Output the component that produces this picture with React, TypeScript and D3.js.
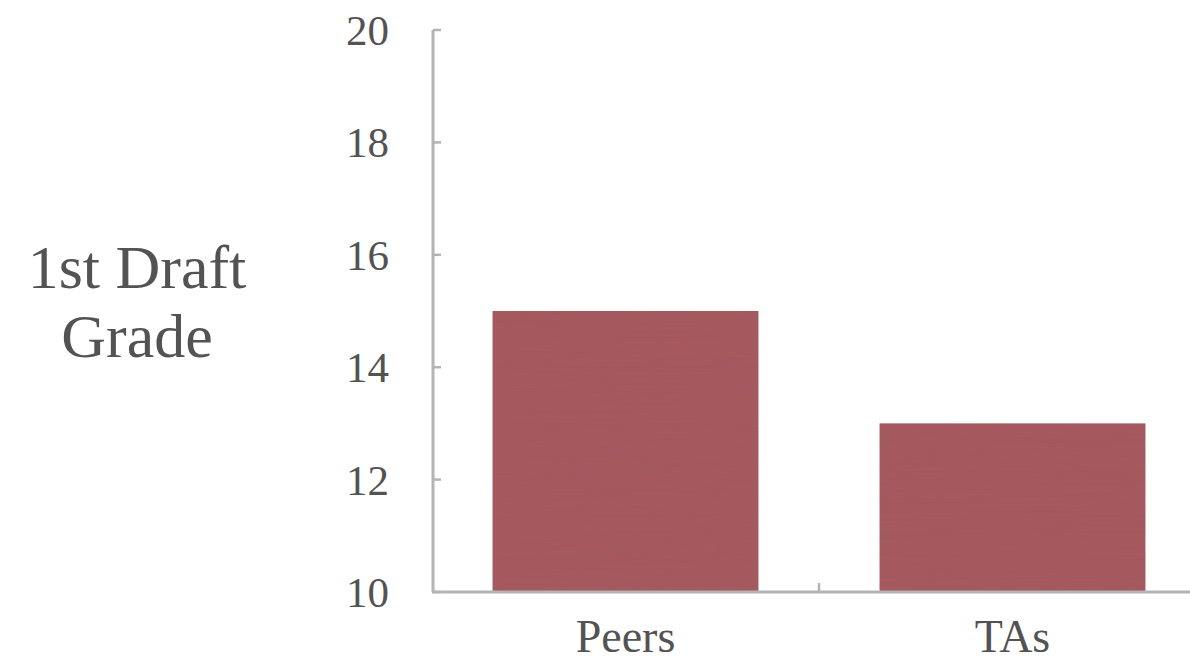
import React from "react";
import * as d3 from "d3";

// Mean first-draft grade by reviewer group
const categories: string[] = ["Peers", "TAs"];
const grades: number[] = [15, 13];
const yTicks: number[] = [10, 12, 14, 16, 18, 20];
const yTitleLines: string[] = ["1st Draft", "Grade"];

const W = 1190;
const H = 663;
const FONT = "'Liberation Serif', 'Times New Roman', serif";
const TEXT = "#535353";
const AXIS = "#b4b4b4";
const BAR = "#a75a5e";

export default function App() {
  const x = d3
    .scaleBand<string>()
    .domain(categories)
    .range([432, 1206])
    .paddingInner(0.313)
    .paddingOuter(0.1565);
  const y = d3.scaleLinear().domain([10, 20]).range([592, 30]);

  // tick marks sit between neighbouring bands
  const boundaries = categories
    .slice(1)
    .map((c) => (x(c) as number) - (x.step() * x.paddingInner()) / 2);

  return (
    <svg
      width={W}
      height={H}
      viewBox={`0 0 ${W} ${H}`}
      style={{ position: "absolute", left: 0, top: 0, background: "#fff" }}
    >
      <defs>
        <filter id="streaks" x="0" y="0" width="100%" height="100%">
          <feTurbulence type="fractalNoise" baseFrequency="0.004 0.45" numOctaves="2" seed="3" result="noise" />
          <feColorMatrix
            in="noise"
            type="matrix"
            values="0 0 0 0 0.25  0 0 0 0 0.1  0 0 0 0 0.12  0 0 0 0.18 0"
            result="shade"
          />
          <feComposite in="shade" in2="SourceGraphic" operator="in" result="clipped" />
          <feMerge>
            <feMergeNode in="SourceGraphic" />
            <feMergeNode in="clipped" />
          </feMerge>
        </filter>
      </defs>

      {/* bars */}
      {categories.map((c, i) => (
        <rect
          key={c}
          x={x(c)}
          y={y(grades[i])}
          width={x.bandwidth()}
          height={y(10) - y(grades[i])}
          fill={BAR}
          filter="url(#streaks)"
        />
      ))}

      {/* y axis */}
      <line x1={433} x2={433} y1={y(20)} y2={y(10)} stroke={AXIS} strokeWidth={3} />
      {yTicks.map((t) => (
        <g key={t}>
          <line x1={433} x2={441} y1={y(t)} y2={y(t)} stroke={AXIS} strokeWidth={2.5} />
          <text
            x={389}
            y={y(t)}
            dy="0.35em"
            textAnchor="end"
            fontFamily={FONT}
            fontSize={43}
            fill={TEXT}
          >
            {t}
          </text>
        </g>
      ))}

      {/* x axis */}
      <line x1={432} x2={W} y1={y(10)} y2={y(10)} stroke={AXIS} strokeWidth={3} />
      {boundaries.map((b, i) => (
        <line key={i} x1={b} x2={b} y1={y(10)} y2={y(10) - 9} stroke={AXIS} strokeWidth={2.5} />
      ))}
      {categories.map((c) => (
        <text
          key={c}
          x={(x(c) as number) + x.bandwidth() / 2}
          y={652}
          textAnchor="middle"
          fontFamily={FONT}
          fontSize={46}
          fill={TEXT}
        >
          {c}
        </text>
      ))}

      {/* y title */}
      {yTitleLines.map((line, i) => (
        <text
          key={line}
          x={137}
          y={288 + i * 69}
          textAnchor="middle"
          fontFamily={FONT}
          fontSize={62}
          fill={TEXT}
        >
          {line}
        </text>
      ))}
    </svg>
  );
}
